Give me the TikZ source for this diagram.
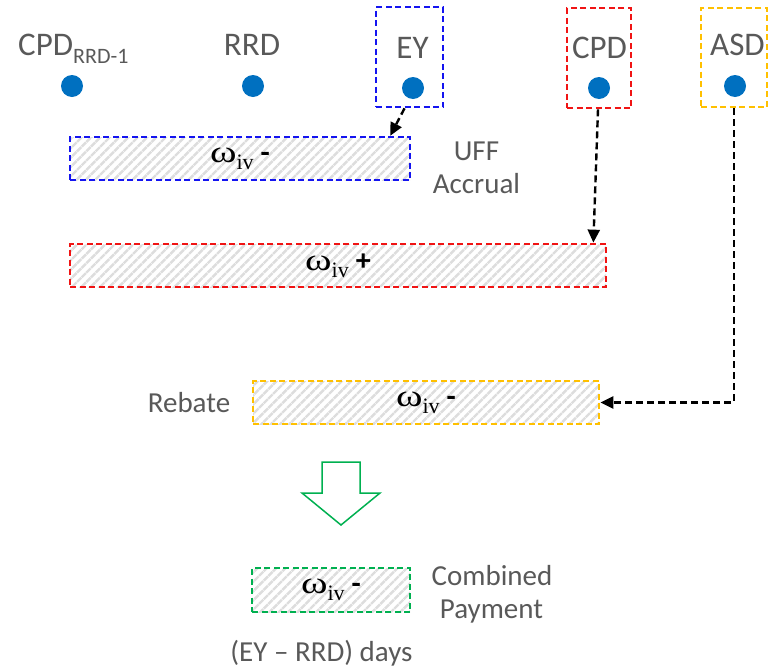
\documentclass[tikz,border=0pt]{standalone}
\usepackage{fontspec}
\setmainfont{Carlito}
\newfontfamily\greekserif{Liberation Serif}
\usetikzlibrary{patterns.meta,arrows.meta}

\definecolor{txtgray}{HTML}{595959}
\definecolor{dotblue}{HTML}{0070C0}
\definecolor{boxblue}{HTML}{1414F0}
\definecolor{boxred}{HTML}{F01414}
\definecolor{boxorange}{HTML}{FFC000}
\definecolor{boxgreen}{HTML}{00B050}
\definecolor{hatchgray}{HTML}{DDDDDD}

% omega_iv with a trailing bold sign
\newcommand{\wiv}[1]{\raisebox{-4pt}{{\greekserif\fontsize{31}{34}\selectfont
  \scalebox{1.3}[1]{ω}\raisebox{-7pt}{\fontsize{22}{24}\selectfont iv}}%
  \hspace{7pt}{\fontsize{30}{34}\selectfont\bfseries #1}}}

\tikzset{
  lbl/.style={text=txtgray, font=\fontsize{33}{40}\selectfont, inner sep=0pt, anchor=base},
  sidelbl/.style={text=txtgray, font=\fontsize{29}{33}\selectfont, inner sep=0pt, anchor=base},
  dot/.style={circle, fill=dotblue, draw=none, minimum size=22pt, inner sep=0pt},
  framebox/.style={draw, line width=2.7pt, dash pattern=on 6pt off 3.5pt, inner sep=0pt},
  bar/.style={framebox, pattern={Lines[angle=45,distance=6.6pt,line width=2.4pt]},
    pattern color=hatchgray, text=black},
  conn/.style={draw=black, line width=2.4pt, dash pattern=on 7pt off 4pt,
    -{Triangle[length=13pt,width=12pt]}},
}

\begin{document}
\begin{tikzpicture}[x=1pt,y=-1pt]
\useasboundingbox (0,0) rectangle (777,667);

% date markers
\node[lbl, anchor=base west] (lcpdprev) at (18,55) {CPD\raisebox{-8pt}{\fontsize{22}{26}\selectfont RRD-1}};
\node[dot] (dcpdprev) at (72,86) {};
\node[lbl] (lrrd) at (252,55) {RRD};
\node[dot] (drrd) at (253,86) {};

\node[framebox, draw=boxblue, minimum width=67pt, minimum height=100pt] (eybox) at (409.5,57) {};
\node[lbl] (ley) at (412.5,58) {EY};
\node[dot] (dey) at (413,88) {};

\node[framebox, draw=boxred, minimum width=64pt, minimum height=100pt] (cpdbox) at (599,58) {};
\node[lbl] (lcpd) at (599.5,58) {CPD};
\node[dot] (dcpd) at (599,88) {};

\node[framebox, draw=boxorange, minimum width=66pt, minimum height=99pt] (asdbox) at (734,57.5) {};
\node[lbl] (lasd) at (737.5,55) {ASD};
\node[dot] (dasd) at (735,86) {};

% hatched intervals
\node[bar, draw=boxblue, minimum width=340pt, minimum height=43pt] (ubar) at (240,158.5) {\wiv{-}};
\node[sidelbl] (luff) at (476.5,160) {UFF};
\node[sidelbl] (lacc) at (476.5,193) {Accrual};

\node[bar, draw=boxred, minimum width=536pt, minimum height=43pt] (rbar) at (338,265.5) {\wiv{+}};

\node[bar, draw=boxorange, minimum width=346pt, minimum height=43pt] (obar) at (426,402.5) {\wiv{-}};
\node[sidelbl] (lrebate) at (189,412) {Rebate};

% hollow block arrow
\draw[boxgreen, line width=1.5pt, line join=miter]
  (322,462) -- (360,462) -- (360,493) -- (380,493) -- (341,525) -- (302,493) -- (322,493) -- cycle;

\node[bar, draw=boxgreen, minimum width=158pt, minimum height=44pt] (gbar) at (331,590) {\wiv{-}};
\node[sidelbl] (lcomb) at (492,585) {Combined};
\node[sidelbl] (lpay) at (491.5,618) {Payment};
\node[sidelbl] (ldays) at (321.5,661) {(EY – RRD) days};

% connectors
\draw[conn] ([xshift=-5pt]eybox.south) -- ([xshift=-21pt]ubar.north east);
\draw[conn] ([xshift=-1pt]cpdbox.south) -- ([xshift=-14pt]rbar.north east);
\draw[conn] (asdbox.south) |- (obar.east);
\end{tikzpicture}
\end{document}
